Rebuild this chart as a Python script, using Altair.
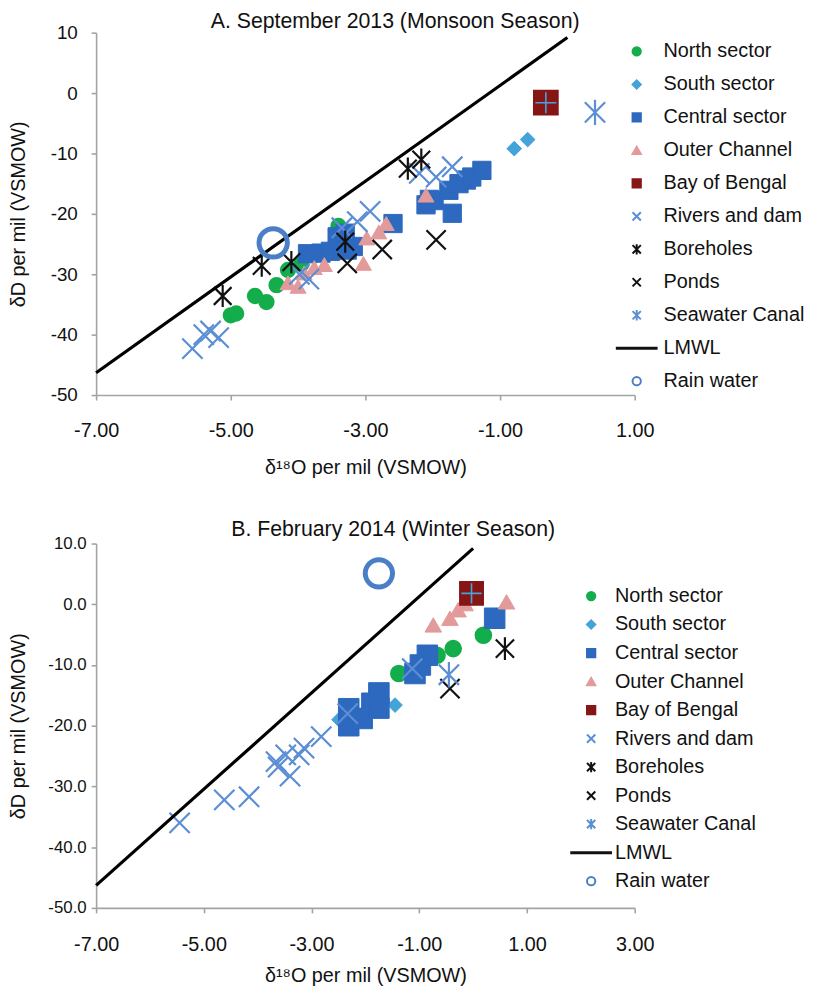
import altair as alt
import pandas as pd

FONT = "Liberation Sans"

SERIES = ["North sector", "South sector", "Central sector", "Outer Channel", "Bay of Bengal",
          "Rivers and dam", "Boreholes", "Ponds", "Seawater Canal", "LMWL", "Rain water"]

# ---------------- Panel A : September 2013 ----------------
a_north_x = [-5.00, -4.92, -4.64, -4.47, -4.32, -4.15, -3.95, -3.40]
a_north_y = [-36.8, -36.5, -33.6, -34.6, -31.8, -29.3, -28.3, -22.0]
a_south_x = [-0.79, -0.59]
a_south_y = [-9.2, -7.7]
a_central_x = [-3.86, -3.66, -3.52, -3.42, -3.30, -3.27, -3.18, -2.59, -2.10, -2.05, -1.98,
               -1.76, -1.61, -1.71, -1.50, -1.42, -1.27]
a_central_y = [-26.6, -26.5, -26.2, -23.8, -23.2, -26.0, -25.4, -21.6, -18.5, -17.6, -17.8,
               -16.1, -15.0, -19.9, -14.4, -13.9, -12.8]
a_outer_x = [-4.15, -4.00, -3.91, -3.76, -3.61, -3.03, -2.98, -2.80, -2.69, -2.10]
a_outer_y = [-31.4, -32.0, -29.8, -28.9, -28.4, -28.2, -24.0, -23.0, -21.6, -16.9]
a_bay_x = [-0.32]
a_bay_y = [-1.6]
a_rivers_x = [-5.57, -5.40, -5.30, -5.18, -3.98, -3.84, -3.35, -3.12, -2.93, -2.20, -1.95, -1.71]
a_rivers_y = [-42.3, -40.0, -39.4, -40.5, -30.0, -30.8, -22.3, -21.3, -19.6, -13.3, -13.9, -12.2]
a_bore_x = [-5.12, -4.54, -4.10, -3.30, -2.37, -2.17]
a_bore_y = [-33.6, -28.6, -28.0, -24.6, -12.5, -11.0]
a_ponds_x = [-3.27, -2.75, -1.95]
a_ponds_y = [-28.2, -25.9, -24.3]
a_sea_x = [0.41]
a_sea_y = [-3.2]
a_rain_x = [-4.37]
a_rain_y = [-24.8]

# ---------------- Panel B : February 2014 ----------------
b_north_x = [-1.38, -0.67, -0.37, 0.19]
b_north_y = [-11.4, -8.4, -7.3, -5.1]
b_south_x = [-2.49, -1.45]
b_south_y = [-19.0, -16.6]
b_central_x = [-2.31, -2.31, -2.06, -1.88, -1.75, -1.75, -1.08, -0.98, -0.85, 0.40]
b_central_y = [-20.0, -17.2, -18.8, -16.3, -17.1, -14.6, -11.4, -10.0, -8.4, -2.3]
b_outer_x = [-0.74, -0.43, -0.28, -0.15, 0.62]
b_outer_y = [-3.4, -2.3, -0.9, 0.1, 0.4]
b_bay_x = [-0.03]
b_bay_y = [1.8]
b_rivers_x = [-5.45, -4.62, -4.16, -3.66, -3.62, -3.48, -3.40, -3.23, -3.14, -2.82, -2.33, -1.13]
b_rivers_y = [-36.0, -32.2, -31.7, -25.9, -26.8, -24.8, -28.3, -24.8, -23.7, -21.8, -18.0, -10.6]
b_bore_x = [0.59]
b_bore_y = [-7.3]
b_ponds_x = [-0.43]
b_ponds_y = [-13.9]
b_sea_x = [-0.45]
b_sea_y = [-11.6]
b_rain_x = [-1.75]
b_rain_y = [5.1]

# Local meteoric water line end points
lmwl_x = [-7.0, 0.0]
lmwl_y = [-46.3, 9.2]

# ---------------- styling ----------------
X_PATH = "M-1,-1L1,1M-1,1L1,-1"
AST_PATH = "M-1,-1L1,1M-1,1L1,-1M0,-1.25L0,1.25"
LINE_PATH = "M-4.8,-0.12L4.8,-0.12L4.8,0.12L-4.8,0.12Z"
PLUS_PATH = "M-1,0L1,0M0,-1L0,1"

C_GREEN = "#14ad4b"
C_LBLUE = "#44a3d8"
C_BLUE = "#2d69be"
C_PINK = "#e39a9a"
C_DRED = "#861616"
C_XBLUE = "#5b8ed5"
C_BLACK = "#111111"
C_RAIN = "#4a7ec6"

shape_range = ["circle", "diamond", "square", "triangle-up", "square",
               X_PATH, AST_PATH, X_PATH, AST_PATH, LINE_PATH, "circle"]
fill_range = [C_GREEN, C_LBLUE, C_BLUE, C_PINK, C_DRED,
              "transparent", "transparent", "transparent", "transparent", C_BLACK, "transparent"]
stroke_range = [C_GREEN, C_LBLUE, C_BLUE, C_PINK, C_DRED,
                C_XBLUE, C_BLACK, C_BLACK, C_XBLUE, C_BLACK, C_RAIN]


def frame(name, xs, ys):
    return pd.DataFrame({"x": xs, "y": ys, "series": [name] * len(xs)})


def panel(p, title, title_dx, title_offset, width, height, xdomain, xvalues, ylabel_fmt,
          ylabel_size, ylabel_pad, ytitle_x, xlabel_pad, xtitle_pad, legend_x, legend_y,
          row_pad, label_offset, sizes):
    xs = alt.Scale(domain=xdomain, nice=False, zero=False)
    ys = alt.Scale(domain=[-50, 10], nice=False, zero=False)
    xenc = alt.X("x:Q", scale=xs, axis=alt.Axis(
        values=xvalues, title="δ¹⁸O per mil (VSMOW)", labelFlush=False,
        labelExpr="(datum.value < 0 ? '-' : '') + format(abs(datum.value), '.2f')",
        labelPadding=xlabel_pad, titlePadding=xtitle_pad, labelFontSize=20))
    yenc = alt.Y("y:Q", scale=ys, axis=alt.Axis(
        values=[-50, -40, -30, -20, -10, 0, 10], title="δD per mil (VSMOW)", labelFlush=False,
        labelExpr="(datum.value < 0 ? '-' : '') + format(abs(datum.value), '" + ylabel_fmt + "')",
        labelFontSize=ylabel_size, labelPadding=ylabel_pad,
        titleX=ytitle_x, titleY=height / 2, titleAngle=270, titleAlign="center",
        titleBaseline="middle"))
    leg = alt.Legend(title=None, orient="none", legendX=legend_x, legendY=legend_y,
                     rowPadding=row_pad, labelOffset=label_offset, symbolSize=70,
                     symbolStrokeWidth=2, labelFontSize=20, labelFont=FONT, padding=0,
                     labelLimit=400, labelColor="#111111")
    shp = alt.Shape("series:N", scale=alt.Scale(domain=SERIES, range=shape_range), legend=leg)
    fil = alt.Fill("series:N", scale=alt.Scale(domain=SERIES, range=fill_range), legend=leg)
    stk = alt.Stroke("series:N", scale=alt.Scale(domain=SERIES, range=stroke_range), legend=leg)

    def pts(name, size, sw):
        df = frame(name, p[name][0], p[name][1])
        return alt.Chart(df).mark_point(size=size, strokeWidth=sw, opacity=1).encode(
            x=xenc, y=yenc, shape=shp, fill=fil, stroke=stk)

    layers = [
        pts("North sector", sizes["circle"], 2),
        pts("South sector", sizes["diamond"], 1),
        pts("Central sector", sizes["square"], 1),
        pts("Outer Channel", sizes["triangle"], 1),
        pts("Bay of Bengal", sizes["bay"], 1.5),
        alt.Chart(frame("Bay of Bengal", p["Bay of Bengal"][0], p["Bay of Bengal"][1]))
        .mark_point(shape=PLUS_PATH, size=sizes["bay"] * 0.75, strokeWidth=1.6, color=C_LBLUE,
                    opacity=1).encode(x=xenc, y=yenc),
        pts("Rivers and dam", sizes["x"], 2.2),
        pts("Boreholes", sizes["ast"], 2.2),
        pts("Ponds", sizes["x"] * 0.9, 2.2),
        pts("Seawater Canal", sizes["x"], 2.2),
        alt.Chart(pd.DataFrame({"x": lmwl_x, "y": lmwl_y})).mark_line(
            color="black", strokeWidth=3.2).encode(x=xenc, y=yenc),
        pts("Rain water", sizes["rain"], 5),
    ]
    return alt.layer(*layers).properties(
        width=width, height=height,
        title=alt.TitleParams(text=title, fontSize=21.5, font=FONT, fontWeight="normal",
                              color="#111111", anchor="middle", dx=title_dx,
                              offset=title_offset, frame="group"),
    ).resolve_scale(shape="shared", fill="shared", stroke="shared")


pa = {
    "North sector": (a_north_x, a_north_y), "South sector": (a_south_x, a_south_y),
    "Central sector": (a_central_x, a_central_y), "Outer Channel": (a_outer_x, a_outer_y),
    "Bay of Bengal": (a_bay_x, a_bay_y), "Rivers and dam": (a_rivers_x, a_rivers_y),
    "Boreholes": (a_bore_x, a_bore_y), "Ponds": (a_ponds_x, a_ponds_y),
    "Seawater Canal": (a_sea_x, a_sea_y), "Rain water": (a_rain_x, a_rain_y),
}
pb = {
    "North sector": (b_north_x, b_north_y), "South sector": (b_south_x, b_south_y),
    "Central sector": (b_central_x, b_central_y), "Outer Channel": (b_outer_x, b_outer_y),
    "Bay of Bengal": (b_bay_x, b_bay_y), "Rivers and dam": (b_rivers_x, b_rivers_y),
    "Boreholes": (b_bore_x, b_bore_y), "Ponds": (b_ponds_x, b_ponds_y),
    "Seawater Canal": (b_sea_x, b_sea_y), "Rain water": (b_rain_x, b_rain_y),
}

sizes_a = {"circle": 210, "diamond": 220, "square": 340, "triangle": 260, "bay": 600,
           "x": 420, "ast": 320, "rain": 820}
sizes_b = {"circle": 250, "diamond": 220, "square": 430, "triangle": 280, "bay": 560,
           "x": 420, "ast": 340, "rain": 760}

chart_a = panel(pa, "A. September 2013 (Monsoon Season)", 30, -9, 544, 366, [-7, 1],
                [-7, -5, -3, -1, 1], "d", 19, 14, -78, 21, 17, 536, 9, 13.3, 17, sizes_a)
chart_b = panel(pb, "B. February 2014 (Winter Season)", 28, -6, 544, 368, [-7, 3],
                [-7, -5, -3, -1, 1, 3], ".1f", 17, 5, -78, 22, 11, 490, 43, 8.8, 14, sizes_b)

chart = alt.vconcat(chart_a, chart_b, spacing=41).resolve_scale(
    shape="independent", fill="independent", stroke="independent"
).properties(padding={"top": -2, "left": 0, "right": 0, "bottom": 0}).configure_view(
    stroke="transparent"
).configure_axis(
    domainColor="#a3a3a3", domainWidth=1.6, tickColor="#a3a3a3", tickWidth=1.6, tickSize=5,
    labelFont=FONT, labelColor="#111111", titleFont=FONT, titleFontSize=20,
    titleFontWeight="normal", titleColor="#111111", grid=False
)

chart.save("out.html", embed_options={"renderer": "svg", "actions": False})
